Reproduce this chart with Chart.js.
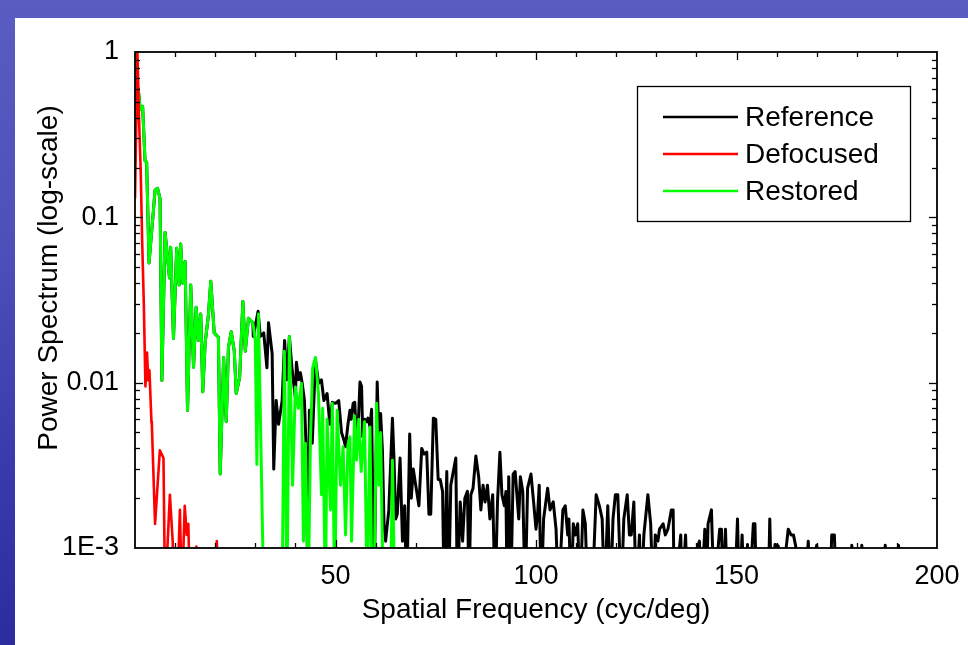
<!DOCTYPE html>
<html><head><meta charset="utf-8">
<script src="https://cdn.jsdelivr.net/npm/chart.js@4.4.0/dist/chart.umd.min.js"></script>
<style>
html,body{margin:0;padding:0;width:968px;height:645px;overflow:hidden;}
body{background:linear-gradient(180deg,#5a5cc2 0%,#4f51bb 35%,#3a3cad 70%,#2b2c9f 100%);position:relative;}
#panel{position:absolute;left:15px;top:18px;width:953px;height:627px;background:#fff;}
canvas{position:absolute;left:0;top:0;}
</style></head><body><div id="panel"></div><canvas id="c" width="968" height="645"></canvas>
<script>
const seriesNames = ['Reference', 'Defocused', 'Restored'];
const seriesColors = ['#000000', '#ff0000', '#00ff00'];
const xTickValues = [50, 100, 150, 200];
const yTickValues = [0.001, 0.01, 0.1, 1];
const yTickLabels = ['1E-3', '0.01', '0.1', '1'];
const xTitle = 'Spatial Frequency (cyc/deg)';
const yTitle = 'Power Spectrum (log-scale)';

const defocusedFreq = [0, 0.6, 1.0, 1.4, 1.8, 2.2, 2.6, 3.0, 3.3, 3.6, 4.1, 4.2, 5.0, 6.2, 6.4, 7.1, 7.5, 8.7, 9.4, 9.75, 10.5, 11.2, 11.7, 12.4, 12.9, 13.3, 13.7, 15.0, 15.3, 15.6, 20.0, 20.4, 20.8];
const defocusedPower = [0.13, 1.0, 0.4, 0.2, 0.07, 0.03, 0.0095, 0.0152, 0.0103, 0.0119, 0.0058, 0.0056, 0.0014, 0.0039, 0.0038, 0.0035, 0.0005, 0.0021, 0.0011, 0.0005, 0.0005, 0.0017, 0.0005, 0.0018, 0.0012, 0.0014, 0.0005, 0.0005, 0.00102, 0.0005, 0.0005, 0.0011, 0.0005];

const restoredFreq = [0, 0.4, 0.8, 1.3, 1.9, 2.5, 2.9, 3.5, 4.6, 5.0, 5.6, 6.25, 6.7, 7.5, 8.6, 8.9, 9.6, 10.4, 11.0, 11.4, 11.9, 12.5, 13.1, 13.9, 14.6, 15.25, 15.8, 16.4, 16.9, 17.5, 18.3, 18.9, 19.75, 20.8, 21.25, 22.1, 22.75, 23.3, 24.0, 24.75, 25.25, 26.1, 26.9, 27.5, 28.3, 29.4,
  30.0, 30.4, 30.8, 31.7, 32.1, 36.7, 37.25, 37.9, 38.5, 39.3, 40.0, 40.75, 41.5, 42.0, 42.5, 43.2, 43.75, 44.3, 45.0, 45.75, 46.5, 46.8, 47.5, 47.9, 48.75, 49.2, 49.8, 50.4, 51.25, 51.9, 52.5, 53.1, 53.6, 54.0, 54.75, 55.25, 55.8, 56.4, 57.25, 57.9, 58.6, 59.1, 59.6, 60.25, 60.8, 61.25, 61.9, 63.75, 64.2, 64.75];
const restoredPower = [1.0, 0.4, 0.6, 0.45, 0.47, 0.22, 0.216, 0.053, 0.11, 0.146, 0.15, 0.13, 0.0103, 0.081, 0.043, 0.066, 0.0185, 0.065, 0.039, 0.069, 0.04, 0.054, 0.0068, 0.039, 0.0124, 0.0286, 0.018, 0.026, 0.0088, 0.0175, 0.0255, 0.041, 0.02, 0.0188, 0.0028, 0.0142, 0.0058, 0.0163, 0.0203, 0.0156, 0.0086, 0.0108, 0.031, 0.0155, 0.0245, 0.023,
  0.018, 0.0032, 0.026, 0.0017, 0.0005, 0.0005, 0.0155, 0.0005, 0.019, 0.0024, 0.0094, 0.007, 0.0099, 0.0011, 0.0043, 0.0005, 0.0045, 0.0123, 0.0142, 0.0086, 0.0021, 0.007, 0.0005, 0.006, 0.0017, 0.0075, 0.0005, 0.0068, 0.0024, 0.0041, 0.0012, 0.0042, 0.0047, 0.0011, 0.0063, 0.0034, 0.006, 0.0029, 0.0058, 0.0005, 0.0054, 0.0005, 0.0005, 0.0075, 0.0024, 0.005, 0.0005, 0.0005, 0.0034, 0.0005];

const referenceTailFreq = [29.5, 30.7, 31.25, 32.1, 32.9, 33.3, 34.2, 34.6, 35.2, 35.8, 36.7, 37.3, 37.9, 38.5, 39.2, 40.0, 40.25, 40.8, 41.25, 41.7, 42.25, 42.7, 43.1, 43.5, 44.2, 45.0, 45.8, 46.5, 47.1, 47.9, 48.6, 49.2, 50.0, 50.8, 51.5, 52.1, 52.5, 53.1, 53.6, 53.9, 54.4, 54.8, 55.25, 55.6, 56.1, 56.5, 56.8, 57.3, 57.75, 58.1, 58.6, 59.0, 59.6, 60.4, 60.8, 61.25, 61.7, 62.1, 62.5, 63.3, 64.2, 64.6, 65.0, 65.4, 66.1, 66.7, 67.25, 67.75, 68.5, 68.9, 69.4, 70.0, 70.8, 71.5, 72.1, 72.75, 73.3, 73.75, 74.4, 75.0, 75.6, 76.1, 76.7, 77.1, 77.75, 78.2, 78.75, 80.0, 80.4, 81.1, 81.7, 82.25, 82.9, 83.3, 83.75, 84.3, 85.0, 85.7, 86.25, 86.8, 87.3, 87.9, 88.5, 89.2, 89.8, 90.4, 91.0, 91.5, 92.1, 92.5, 92.8, 93.2, 93.7, 94.3, 94.8, 95.7, 96.1, 96.7, 97.3, 97.9, 98.75, 99.4, 100.0, 100.4, 100.8, 101.3, 101.9, 102.9, 103.5, 104.3, 105.0, 105.6, 106.7, 107.3, 107.9, 108.2, 108.75, 109.3, 109.8, 110.4, 111.0, 111.7, 112.3, 112.9, 114.0, 115.0, 115.8, 116.5, 117.1, 117.9, 118.6, 119.2, 119.8, 120.4, 121.25, 121.9, 122.75, 123.3, 123.75, 124.4, 125.0, 125.8, 126.25, 126.9, 127.9, 128.6, 129.2, 129.75, 130.4, 130.8, 131.7, 132.25, 132.9, 133.75, 134.2, 134.5, 136.1, 136.4, 137.3, 137.75, 139.25, 140.25, 140.75, 141.25, 142.1, 142.5, 142.9, 143.75, 144.4, 145.8, 146.25, 146.7, 147.25, 147.75, 149.5, 150.25, 150.7, 151.4, 151.9, 152.75, 153.2, 154.2, 154.6, 155.0, 157.9, 158.3, 158.75, 159.6, 160.4, 161.0, 162.9, 163.6, 164.2, 164.75, 165.4, 167.0, 167.9, 168.3, 170.0, 170.75, 173.25, 173.75, 174.4, 175.0, 178.25, 178.75, 179.5, 180.75, 181.25, 181.75, 186.5, 187.1, 187.6, 189.9, 190.4, 190.9];
const referenceTailPower = [0.019, 0.027, 0.019, 0.02, 0.0123, 0.023, 0.015, 0.003, 0.0078, 0.0056, 0.0078, 0.018, 0.0104, 0.019, 0.0118, 0.0081, 0.0133, 0.0104, 0.0115, 0.0099, 0.0078, 0.0039, 0.0005, 0.0068, 0.0043, 0.0137, 0.0099, 0.0104, 0.0078, 0.0086, 0.0056, 0.0076, 0.0075, 0.0078, 0.005, 0.0045, 0.0041, 0.0056, 0.0068, 0.006, 0.0075, 0.0076, 0.0045, 0.005, 0.0101, 0.0095, 0.0047, 0.006, 0.0058, 0.0061, 0.0054, 0.0069, 0.0005, 0.0101, 0.0047, 0.0065, 0.0039, 0.0014, 0.0011, 0.0017, 0.0061, 0.0034, 0.0015, 0.0016, 0.0035, 0.0011, 0.0018, 0.0005, 0.0049, 0.002, 0.003, 0.0024, 0.0018, 0.004, 0.0037, 0.0038, 0.0016, 0.0016, 0.0061, 0.006, 0.0026, 0.0026, 0.0022, 0.0005, 0.0029, 0.0005, 0.0024, 0.0035, 0.0005, 0.0019, 0.0011, 0.002, 0.0022, 0.0005, 0.0021, 0.0023, 0.0036, 0.0027, 0.0017, 0.0024, 0.0019, 0.0024, 0.0015, 0.0021, 0.0005, 0.0019, 0.0038, 0.0021, 0.0018, 0.0022, 0.0005, 0.0027, 0.0005, 0.0028, 0.0029, 0.0015, 0.0027, 0.0022, 0.0005, 0.0023, 0.0028, 0.0019, 0.0013, 0.0016, 0.0024, 0.0005, 0.0015, 0.0023, 0.0017, 0.0019, 0.0013, 0.0005, 0.0017, 0.0018, 0.0012, 0.0015, 0.0005, 0.0014, 0.0012, 0.0014, 0.0005, 0.0017, 0.0014, 0.0005, 0.0005, 0.0021, 0.0018, 0.0015, 0.0005, 0.0018, 0.0005, 0.0015, 0.0021, 0.0021, 0.0005, 0.0015, 0.0021, 0.0012, 0.0012, 0.0019, 0.0005, 0.0012, 0.0005, 0.0012, 0.0021, 0.0014, 0.0005, 0.0012, 0.0011, 0.0013, 0.0014, 0.0012, 0.0013, 0.0017, 0.0017, 0.0005, 0.0012, 0.0005, 0.0012, 0.0005, 0.0005, 0.001, 0.0011, 0.0005, 0.0013, 0.0005, 0.0014, 0.0017, 0.0005, 0.0013, 0.0013, 0.0005, 0.0013, 0.0005, 0.0005, 0.0015, 0.0005, 0.0012, 0.0005, 0.00105, 0.0005, 0.0014, 0.0014, 0.0005, 0.0005, 0.0015, 0.0005, 0.00105, 0.00103, 0.0005, 0.0013, 0.0012, 0.0012, 0.00103, 0.0005, 0.0005, 0.0011, 0.0005, 0.00104, 0.0005, 0.0005, 0.0012, 0.0012, 0.0005, 0.0005, 0.00104, 0.0005, 0.0005, 0.00104, 0.0005, 0.0005, 0.00104, 0.0005, 0.0005, 0.00104, 0.0005];

// The reference spectrum coincides with the restored one at low frequencies (hidden beneath it).
const overlapEnd = restoredFreq.findIndex(f => f > 29.4);
const referenceFreq = restoredFreq.slice(0, overlapEnd).concat(referenceTailFreq);
const referencePower = restoredPower.slice(0, overlapEnd).concat(referenceTailPower);

const pts = (xs, ys) => xs.map((x, i) => ({x: x, y: ys[i]}));
const FONT = '"Liberation Sans", Arial, sans-serif';

const framePlugin = {
  id: 'frame',
  afterDatasetsDraw(chart) {
    const {ctx, chartArea: a, scales: {x, y}} = chart;
    ctx.save();
    ctx.strokeStyle = '#000';
    ctx.lineWidth = 1.8;
    ctx.strokeRect(a.left, a.top, a.right - a.left, a.bottom - a.top);
    ctx.lineWidth = 1.3;
    const seg = (x1, y1, x2, y2) => { ctx.beginPath(); ctx.moveTo(x1, y1); ctx.lineTo(x2, y2); ctx.stroke(); };
    for (let v = 10; v < 200; v += 10) {
      const px = Math.round(x.getPixelForValue(v)) + 0.5;
      const len = v % 50 === 0 ? 8 : 5;
      seg(px, a.top, px, a.top + len);
      seg(px, a.bottom, px, a.bottom - len);
    }
    for (let d = -3; d < 0; d++) {
      for (let m = 1; m < 10; m++) {
        const v = m * Math.pow(10, d);
        if (m === 1 && d === -3) continue;
        const py = Math.round(y.getPixelForValue(v)) + 0.5;
        const len = m === 1 ? 8 : 5;
        seg(a.left, py, a.left + len, py);
        seg(a.right, py, a.right - len, py);
      }
    }
    // y axis title
    ctx.save();
    ctx.translate(49, 278);
    ctx.rotate(-Math.PI / 2);
    ctx.font = '28px ' + FONT;
    ctx.fillStyle = '#000';
    ctx.textAlign = 'center';
    ctx.textBaseline = 'middle';
    ctx.fillText(yTitle, 0, 0);
    ctx.restore();
    // legend box
    const bx = 637, by = 86, bw = 273, bh = 135;
    ctx.fillStyle = '#fff';
    ctx.fillRect(bx, by, bw, bh);
    ctx.lineWidth = 1.3;
    ctx.strokeStyle = '#000';
    ctx.strokeRect(bx + 0.5, by + 0.5, bw, bh);
    ctx.font = '28px ' + FONT;
    ctx.textBaseline = 'middle';
    ctx.textAlign = 'left';
    chart.data.datasets.forEach((ds, i) => {
      const ly = 117 + i * 37;
      ctx.strokeStyle = ds.borderColor;
      ctx.lineWidth = 2.5;
      seg(663, ly, 738, ly);
      ctx.fillStyle = '#000';
      ctx.fillText(ds.label, 745, ly + 1);
    });
    ctx.restore();
  }
};

new Chart(document.getElementById('c'), {
  type: 'line',
  data: {
    datasets: [
      {label: seriesNames[0], data: pts(referenceFreq, referencePower), borderColor: seriesColors[0], borderWidth: 3, order: 2},
      {label: seriesNames[1], data: pts(defocusedFreq, defocusedPower), borderColor: seriesColors[1], borderWidth: 2.6, order: 0},
      {label: seriesNames[2], data: pts(restoredFreq, restoredPower), borderColor: seriesColors[2], borderWidth: 3, order: 1}
    ]
  },
  options: {
    responsive: false,
    animation: false,
    devicePixelRatio: 1,
    layout: {padding: {left: 0, right: 31, top: 52, bottom: 0}},
    elements: {point: {radius: 0}, line: {tension: 0, borderJoinStyle: 'round'}},
    plugins: {legend: {display: false}, tooltip: {enabled: false}},
    scales: {
      x: {
        type: 'linear', min: 0, max: 200,
        afterBuildTicks: s => { s.ticks = xTickValues.map(v => ({value: v})); },
        afterFit: s => { s.height = 97; s.paddingLeft = 0; s.paddingRight = 0; },
        grid: {display: false, drawTicks: false},
        border: {display: false},
        ticks: {color: '#000', font: {size: 27, family: FONT}, padding: 12, maxRotation: 0, autoSkip: false},
        title: {display: true, text: xTitle, color: '#000', font: {size: 28, family: FONT}, padding: {top: 0, bottom: 18}}
      },
      y: {
        type: 'logarithmic', min: 0.001, max: 1,
        afterBuildTicks: s => { s.ticks = yTickValues.map(v => ({value: v})); },
        afterFit: s => { s.width = 135; s.paddingTop = 0; s.paddingBottom = 0; },
        grid: {display: false, drawTicks: false},
        border: {display: false},
        ticks: {color: '#000', font: {size: 27, family: FONT}, padding: 16, autoSkip: false,
          callback: v => yTickLabels[yTickValues.indexOf(v)]},
        title: {display: false}
      }
    }
  },
  plugins: [framePlugin]
});
</script></body></html>
